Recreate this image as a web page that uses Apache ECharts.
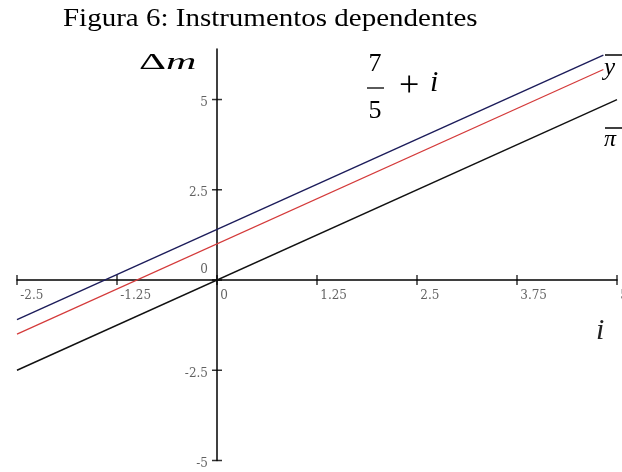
<!DOCTYPE html>
<html>
<head>
<meta charset="utf-8">
<script src="https://cdn.jsdelivr.net/npm/echarts@6/dist/echarts.min.js"></script>
<style>
  html, body { margin: 0; padding: 0; background: #fff; }
  #chart { width: 622px; height: 472px; }
</style>
</head>
<body>
<div id="chart"></div>
<script>
// Interest rate i on the horizontal axis, money-market change Δm on the vertical axis.
const xTicks = [-2.5, -1.25, 0, 1.25, 2.5, 3.75, 5];
const yTicks = [-5, -2.5, 0, 2.5, 5];

// Line endpoints (i, Δm)
const iUpper = [-2.5, 4.83];
const dmUpper = [-1.1, 6.23];     // 7/5 + i
const iMiddle = [-2.5, 4.83];
const dmMiddle = [-1.5, 5.83];
const iLower = [-2.5, 5];
const dmLower = [-2.5, 5];        // pi bar

const X_MIN = -2.5, X_MAX = 5, Y_MIN = -5, Y_MAX = 6.4;

function pairs(xs, ys) { return xs.map((x, k) => [x, ys[k]]); }

const chart = echarts.init(document.getElementById('chart'), null, { renderer: 'canvas' });

const axisLineStyle = { color: '#000', width: 1.5 };
const tickFont = { fontFamily: 'DejaVu Serif', fontSize: 12, color: '#3a3a3a' };

// Tick labels ride on the tick-mark points so they sit on the crossing axes.
const xTickData = xTicks.map(v => ({ value: [v, 0] }));
const yTickData = yTicks.map(v => ({
  value: [0, v],
  label: v === 0 ? { position: [-4, -9] } : { position: [-4, 4] }
}));

const option = {
  animation: false,
  backgroundColor: '#fff',
  grid: { left: 17, right: 5, top: 49, bottom: 11.5, containLabel: false, outerBoundsMode: 'none' },
  xAxis: {
    type: 'value', min: X_MIN, max: X_MAX,
    axisLine: { onZero: true, lineStyle: axisLineStyle },
    axisTick: { show: false },
    axisLabel: { show: false },
    splitLine: { show: false }
  },
  yAxis: {
    type: 'value', min: Y_MIN, max: Y_MAX,
    axisLine: { onZero: true, lineStyle: axisLineStyle },
    axisTick: { show: false },
    axisLabel: { show: false },
    splitLine: { show: false }
  },
  series: [
    {
      name: 'upper', type: 'line',
      data: pairs(iUpper, dmUpper), showSymbol: false, symbol: 'none',
      lineStyle: { color: '#1c1c5a', width: 1.4 }
    },
    {
      name: 'middle', type: 'line',
      data: pairs(iMiddle, dmMiddle), showSymbol: false, symbol: 'none',
      lineStyle: { color: '#d43a3a', width: 1.2 }
    },
    {
      name: 'lower', type: 'line',
      data: pairs(iLower, dmLower), showSymbol: false, symbol: 'none',
      lineStyle: { color: '#111', width: 1.4 }
    },
    // tick marks crossing both axes, with their labels
    {
      name: 'xTickMarks', type: 'scatter', silent: true,
      data: xTickData,
      symbol: 'rect', symbolSize: [1.5, 10],
      itemStyle: { color: '#000' },
      label: {
        show: true, position: [4, 15], align: 'left', verticalAlign: 'top', ...tickFont,
        formatter: p => String(p.value[0])
      },
      labelLayout: { hideOverlap: false }
    },
    {
      name: 'yTickMarks', type: 'scatter', silent: true,
      data: yTickData,
      symbol: 'rect', symbolSize: [10, 1.5],
      itemStyle: { color: '#000' },
      label: {
        show: true, align: 'right', verticalAlign: 'middle', ...tickFont,
        formatter: p => String(p.value[1])
      }
    }
  ],
  graphic: [
    {
      type: 'text', x: 63, y: 19, scaleX: 1.115,
      style: { text: 'Figura 6: Instrumentos dependentes', font: '26px "Liberation Serif"', fill: '#000', verticalAlign: 'middle' }
    },
    // vertical axis name
    {
      type: 'text', x: 139, y: 63, scaleX: 1.75,
      style: {
        text: '{a|Δ}{b|m}', verticalAlign: 'middle', fill: '#000',
        rich: {
          a: { fontFamily: 'Liberation Serif', fontSize: 24, fill: '#000' },
          b: { fontFamily: 'Liberation Serif', fontSize: 24, fontStyle: 'italic', fill: '#000' }
        }
      }
    },
    // 7/5 + i
    { type: 'text', x: 375, y: 64, style: { text: '7', font: '26px "Liberation Serif"', fill: '#000', align: 'center', verticalAlign: 'middle' } },
    { type: 'line', shape: { x1: 367, y1: 88, x2: 384, y2: 88 }, style: { stroke: '#000', lineWidth: 1.3 } },
    { type: 'text', x: 375, y: 111, style: { text: '5', font: '26px "Liberation Serif"', fill: '#000', align: 'center', verticalAlign: 'middle' } },
    { type: 'text', x: 399, y: 87, style: { text: '+', font: '36px "Liberation Serif"', fill: '#000', verticalAlign: 'middle' } },
    { type: 'text', x: 430, y: 83, style: { text: 'i', font: 'italic 30px "Liberation Serif"', fill: '#000', verticalAlign: 'middle' } },
    // y bar
    { type: 'line', shape: { x1: 605, y1: 55, x2: 622, y2: 55 }, style: { stroke: '#000', lineWidth: 1.5 } },
    { type: 'text', x: 604, y: 68, style: { text: 'y', font: 'italic 25px "Liberation Serif"', fill: '#000', verticalAlign: 'middle' } },
    // pi bar
    { type: 'line', shape: { x1: 605, y1: 128, x2: 622, y2: 128 }, style: { stroke: '#000', lineWidth: 1.5 } },
    { type: 'text', x: 604, y: 140, style: { text: 'π', font: 'italic 24px "Liberation Serif"', fill: '#000', verticalAlign: 'middle' } },
    // horizontal axis name
    { type: 'text', x: 596, y: 331, style: { text: 'i', font: 'italic 30px "Liberation Serif"', fill: '#222', verticalAlign: 'middle' } }
  ]
};

chart.setOption(option);
</script>
</body>
</html>
